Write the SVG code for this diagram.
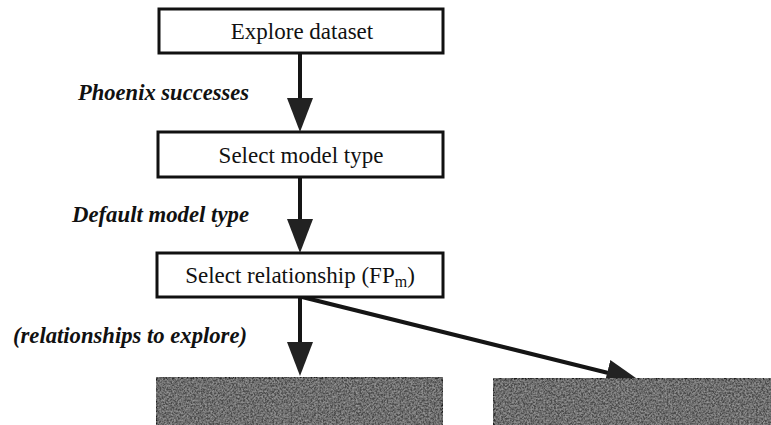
<svg xmlns="http://www.w3.org/2000/svg" width="771" height="425" viewBox="0 0 771 425">
  <style>
    .box { fill: #ffffff; stroke: #111111; stroke-width: 3; }
    .dark { fill: #4c4c4c; stroke: #1a1a1a; stroke-width: 3; }
    .lbl { font-family: "Liberation Serif", "Times New Roman", serif; font-size: 23px; fill: #111111; text-anchor: middle; }
    .edge-lbl { font-family: "Liberation Serif", "Times New Roman", serif; font-size: 24px; font-style: italic; font-weight: bold; fill: #111111; }
    .wire { stroke: #151515; stroke-width: 4; fill: none; marker-end: url(#head); }
  </style>
  <defs>
    <marker id="head" viewBox="0 0 34 26" refX="24" refY="13" markerWidth="34" markerHeight="26" markerUnits="userSpaceOnUse" orient="auto">
      <path d="M0,0 L34,13 L0,26 Z" fill="#222222"/>
    </marker>
    <!-- mottled print texture for the shaded boxes -->
    <filter id="grain" x="0" y="0" width="100%" height="100%">
      <feTurbulence type="fractalNoise" baseFrequency="0.55" numOctaves="3" seed="5" result="n"/>
      <feColorMatrix in="n" type="matrix" values="0 0 0 0 0.5  0 0 0 0 0.5  0 0 0 0 0.5  0 0 0 1.1 -0.35" result="speck"/>
      <feComposite in="speck" in2="SourceGraphic" operator="atop"/>
    </filter>
  </defs>

  <rect width="771" height="425" fill="#ffffff"/>

  <g id="connectors">
    <line class="wire" x1="300" y1="54" x2="300" y2="122"/>
    <line class="wire" x1="300" y1="178" x2="300" y2="243"/>
    <line class="wire" x1="300" y1="298" x2="300" y2="366"/>
    <line class="wire" x1="302" y1="297" x2="630.5" y2="378.5"/>
  </g>

  <g id="edge-labels">
    <text class="edge-lbl" x="78" y="100" textLength="171" lengthAdjust="spacingAndGlyphs">Phoenix successes</text>
    <text class="edge-lbl" x="72" y="222" textLength="177" lengthAdjust="spacingAndGlyphs">Default model type</text>
    <text class="edge-lbl" x="13" y="343" textLength="234" lengthAdjust="spacingAndGlyphs">(relationships to explore)</text>
  </g>

  <g id="explore-dataset">
    <rect class="box" x="159" y="9" width="284" height="44"/>
    <text class="lbl" x="302" y="39">Explore dataset</text>
  </g>

  <g id="select-model-type">
    <rect class="box" x="158" y="132" width="285" height="45"/>
    <text class="lbl" x="301" y="163">Select model type</text>
  </g>

  <g id="select-relationship">
    <rect class="box" x="157" y="253" width="286" height="44"/>
    <text class="lbl" x="300" y="283">Select relationship (FP<tspan font-size="16" dy="4">m</tspan><tspan dy="-4">)</tspan></text>
  </g>

  <g id="relationship-a">
    <rect class="dark" x="156" y="377" width="287" height="60" filter="url(#grain)"/>
  </g>

  <g id="relationship-b">
    <rect class="dark" x="493" y="378" width="290" height="60" filter="url(#grain)"/>
  </g>
</svg>
